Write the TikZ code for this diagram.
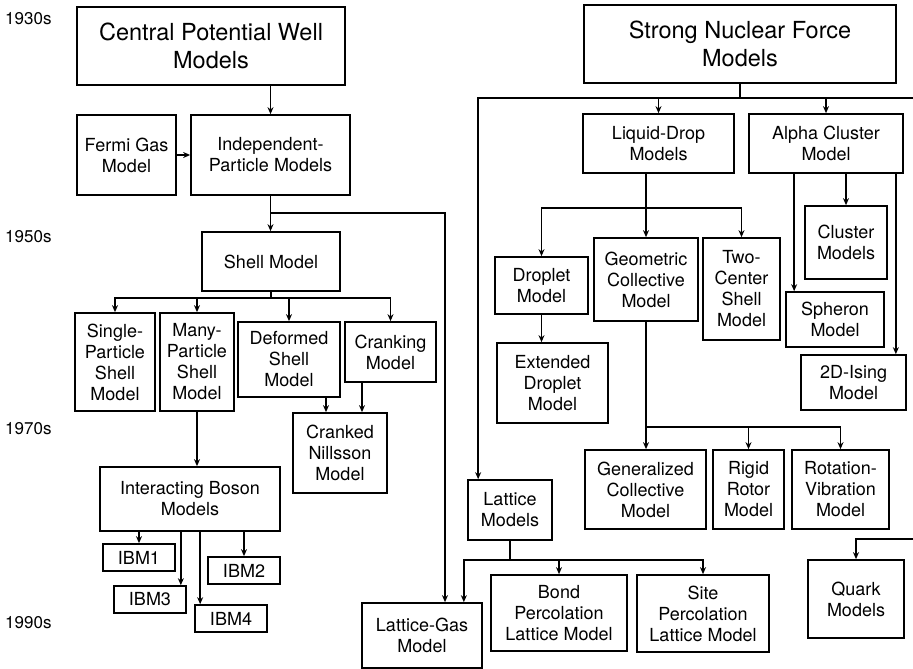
\documentclass[tikz,border=0pt]{standalone}
\usepackage{fontspec}
\setmainfont{TeX Gyre Heros}
\usetikzlibrary{arrows.meta,positioning,calc}
\tikzset{
  mbox/.style={draw, line width=1.7pt, align=center, inner sep=0pt,
               font=\fontsize{18}{21}\selectfont},
  sz/.style 2 args={minimum width=#1pt, minimum height=#2pt},
  bigbox/.style={mbox, font=\fontsize{23.5}{28}\selectfont},
  ibox/.style={mbox, sz={72}{27}},
  yr/.style={anchor=west, inner sep=0pt, font=\fontsize{17}{20}\selectfont},
  arr/.style={-{Stealth[length=7pt,width=6pt]}, line width=1.5pt},
  ln/.style={line width=1.5pt},
}

\begin{document}
\begin{tikzpicture}[x=1pt,y=-1pt]
  \useasboundingbox (0,0) rectangle (913,669);
  % decades
  \node[yr] (y30) at (5,19)  {1930s};
  \node[yr] (y50) at (5,237) {1950s};
  \node[yr] (y70) at (5,429) {1970s};
  \node[yr] (y90) at (5,623) {1990s};
  % central potential side
  \node[bigbox, sz={268}{78}] (cpw) at (211,46) {Central Potential Well\\Models};
  \node[mbox, sz={99}{80}]  (fermi) at (126.5,155) {Fermi Gas\\Model};
  \node[mbox, sz={159}{80}] (ipm) at (270.5,155) {Independent-\\Particle Models};
  \node[mbox, sz={138}{59}] (shell) at (271,261.5) {Shell Model};
  \node[mbox, sz={80}{98}]  (single) at (115,362) {Single-\\Particle\\Shell\\Model};
  \node[mbox, sz={74}{98}]  (many) at (197,362) {Many-\\Particle\\Shell\\Model};
  \node[mbox, sz={102}{75}] (deformed) at (289,359.5) {Deformed\\Shell\\Model};
  \node[mbox, sz={91}{60}]  (cranking) at (390.5,352) {Cranking\\Model};
  \node[mbox, sz={94}{80}]  (cranked) at (340,453) {Cranked\\Nillsson\\Model};
  \node[mbox, sz={180}{64}] (ibm) at (190,499) {Interacting Boson\\Models};
  \node[ibox] (ibm1) at (139,557.5) {IBM1};
  \node[ibox] (ibm2) at (244,570.5) {IBM2};
  \node[ibox] (ibm3) at (150,599.5) {IBM3};
  \node[ibox] (ibm4) at (231,618.5) {IBM4};
  \node[mbox, sz={120}{65}] (latgas) at (422,635.5) {Lattice-Gas\\Model};
  % strong force side
  \node[bigbox, sz={312}{78}] (snf) at (740,44) {Strong Nuclear Force\\Models};
  \node[mbox, sz={151}{59}] (liquid) at (658.5,143.5) {Liquid-Drop\\Models};
  \node[mbox, sz={154}{59}] (alpha) at (826,143.5) {Alpha Cluster\\Model};
  \node[mbox, sz={93}{57}]  (droplet) at (541.5,285.5) {Droplet\\Model};
  \node[mbox, sz={104}{83}] (geo) at (646,279.5) {Geometric\\Collective\\Model};
  \node[mbox, sz={77}{102}] (twoc) at (741.5,289) {Two-\\Center\\Shell\\Model};
  \node[mbox, sz={111}{80}] (extdrop) at (552.5,383) {Extended\\Droplet\\Model};
  \node[mbox, sz={82}{73}]  (cluster) at (846,242.5) {Cluster\\Models};
  \node[mbox, sz={98}{55}]  (spheron) at (835,319.5) {Spheron\\Model};
  \node[mbox, sz={105}{55}] (ising) at (853.5,382.5) {2D-Ising\\Model};
  \node[mbox, sz={121}{79}] (gen) at (645.5,489.5) {Generalized\\Collective\\Model};
  \node[mbox, sz={71}{79}]  (rigid) at (748.5,489.5) {Rigid\\Rotor\\Model};
  \node[mbox, sz={97}{79}]  (rotvib) at (840.5,489.5) {Rotation-\\Vibration\\Model};
  \node[mbox, sz={84}{60}]  (lattice) at (510,510) {Lattice\\Models};
  \node[mbox, sz={136}{76}] (bond) at (559,613) {Bond\\Percolation\\Lattice Model};
  \node[mbox, sz={132}{77}] (site) at (703,613.5) {Site\\Percolation\\Lattice Model};
  \node[mbox, sz={96}{78}]  (quark) at (856,599) {Quark\\Models};

  \draw[arr] (cpw.south -| ipm.north) -- (ipm.north);
  \draw[arr] (fermi) -- (ipm);
  \draw[arr] (ipm.south) -- (ipm.south |- shell.north);
  \draw[arr] ($(ipm.south)+(0,17)$) -| ($(latgas.north)+(23,0)$);
  \foreach \n in {single,many,deformed,cranking}
    \draw[arr] (shell.south) -- ++(0,6) -| (\n.north);
  \coordinate (cn1) at ($(cranked.north)+(-14,0)$);
  \coordinate (cn2) at ($(cranked.north)+(22,0)$);
  \draw[arr] (deformed.south -| cn1) -- (cn1);
  \draw[arr] (cranking.south -| cn2) -- (cn2);
  \draw[arr] (many.south) -- (many.south |- ibm.north);
  \coordinate (i3) at ($(ibm3.north east)+(-6,0)$);
  \coordinate (i4) at ($(ibm4.north west)+(6,0)$);
  \draw[arr] (ibm.south -| ibm1.north) -- (ibm1.north);
  \draw[arr] (ibm.south -| i3) -- (i3);
  \draw[arr] (ibm.south -| i4) -- (i4);
  \draw[arr] (ibm.south -| ibm2.north) -- (ibm2.north);

  \coordinate (sb) at ($(snf.south)+(0,14)$);
  \draw[arr] (snf.south) -- (sb) -| ($(lattice.north west)+(11,0)$);
  \draw[arr] (sb) -| (liquid.north);
  \draw[arr] (sb) -| (alpha.north);
  \draw[arr] (sb) -| ($(quark.north)+(60,-20)$) -| (quark.north);
  \coordinate (lq) at (liquid.south -| geo.north);
  \draw[arr] (lq) -- (geo.north);
  \draw[arr] ($(lq)+(0,34)$) -| (droplet.north);
  \draw[arr] ($(lq)+(0,34)$) -| (twoc.north);
  \draw[arr] (droplet.south) -- (droplet.south |- extdrop.north);
  \coordinate (gb) at ($(geo.south |- gen.north)+(0,-22)$);
  \draw[arr] (geo.south) -- (geo.south |- gen.north);
  \draw[arr] (gb) -| (rigid.north);
  \draw[arr] (gb) -| (rotvib.north);
  \coordinate (a1) at ($(spheron.north west)+(9,0)$);
  \coordinate (a3) at ($(ising.north east)+(-11,0)$);
  \draw[arr] (alpha.south -| a1) -- (a1);
  \draw[arr] (alpha.south -| cluster.north) -- (cluster.north);
  \draw[arr] (alpha.south -| a3) -- (a3);
  \coordinate (lb) at ($(lattice.south)+(0,19)$);
  \draw[ln] (lattice.south) -- (lb);
  \draw[arr] (lb) -| ($(latgas.north east)+(-19,0)$);
  \draw[arr] (lb) -| (bond.north);
  \draw[arr] (lb) -| (site.north);
\end{tikzpicture}
\end{document}
